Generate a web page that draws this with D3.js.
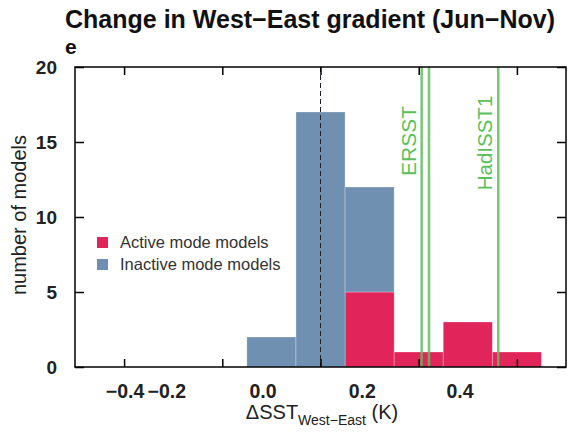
<!DOCTYPE html>
<html>
<meta charset="utf-8">
<title>Change in West-East gradient</title>
<script src="https://d3js.org/d3.v7.min.js"></script>
<style>
body { margin: 0; background: #fff; }
text { font-family: "Liberation Sans", Arial, sans-serif; }
.axis path { display: none; }
.axis line { stroke: #000; stroke-width: 1.5; }
</style>
<body>
<svg width="576" height="432"></svg>
<script>
// histogram bins (centre of each 0.1 K bin)
var binCentres = [-0.1, 0.0, 0.1, 0.2, 0.3, 0.4];
var activeCounts = [0, 0, 5, 1, 3, 1];
var inactiveCounts = [2, 17, 7, 0, 0, 0];
var binWidth = 0.1;

// observed values
var obsNames = ["ERSST", "ERSST", "HadISST1"];
var obsValues = [0.206, 0.221, 0.362];

var xTicks = [-0.4, -0.2, 0.0, 0.2, 0.4];
var xTickLabels = ["\u22120.4", "\u22120.2", "0.0", "0.2", "0.4"];
// where the labels sit in the original figure (shifted from the ticks)
var xLabelAt = [-0.398, -0.313, -0.117, 0.085, 0.284];
var yTicks = [0, 5, 10, 15, 20];

var svg = d3.select("svg");
var pL = 75, pR = 566, pT = 67, pB = 367;

var x = d3.scaleLinear().domain([-0.5, 0.5]).range([pL, pR]);
var y = d3.scaleLinear().domain([0, 20]).range([pB, pT]);

var red = "#e1255b", blue = "#7090b2", green = "#5cbf5c";

var bins = binCentres.map(function(c, i) {
  return {c: c, a: activeCounts[i], n: inactiveCounts[i]};
});

// active (bottom of stack)
svg.selectAll(".act").data(bins.filter(function(d){ return d.a > 0; }))
  .enter().append("rect")
  .attr("class", "act")
  .attr("x", function(d){ return x(d.c - binWidth/2); })
  .attr("width", function(d){ return x(d.c + binWidth/2) - x(d.c - binWidth/2); })
  .attr("y", function(d){ return y(d.a); })
  .attr("height", function(d){ return y(0) - y(d.a); })
  .attr("fill", red)
  .attr("stroke", "#fff").attr("stroke-opacity", 0.35).attr("stroke-width", 0.8);

// inactive on top
svg.selectAll(".inact").data(bins.filter(function(d){ return d.n > 0; }))
  .enter().append("rect")
  .attr("class", "inact")
  .attr("x", function(d){ return x(d.c - binWidth/2); })
  .attr("width", function(d){ return x(d.c + binWidth/2) - x(d.c - binWidth/2); })
  .attr("y", function(d){ return y(d.a + d.n); })
  .attr("height", function(d){ return y(d.a) - y(d.a + d.n); })
  .attr("fill", blue)
  .attr("stroke", "#fff").attr("stroke-opacity", 0.35).attr("stroke-width", 0.8);

// zero line
svg.append("line")
  .attr("x1", x(0)).attr("x2", x(0))
  .attr("y1", y(20)).attr("y2", y(0))
  .attr("stroke", "#1a2230").attr("stroke-width", 1)
  .attr("stroke-dasharray", "5,3");

// observation lines
svg.selectAll(".obs").data(obsValues)
  .enter().append("line")
  .attr("class", "obs")
  .attr("x1", function(d){ return x(d); }).attr("x2", function(d){ return x(d); })
  .attr("y1", y(20)).attr("y2", y(0))
  .attr("stroke", green).attr("stroke-width", 2.5).attr("stroke-opacity", 0.85);

var obsLabels = [{t: "ERSST", v: obsValues[0], yc: 141, fs: 21}, {t: "HadISST1", v: obsValues[2], yc: 143, fs: 20.5}];
svg.selectAll(".obslab").data(obsLabels)
  .enter().append("text")
  .attr("transform", function(d){ return "translate(" + (x(d.v) - 6) + "," + d.yc + ") rotate(-90)"; })
  .attr("text-anchor", "middle")
  .attr("font-size", function(d){ return d.fs; })
  .attr("fill", green)
  .text(function(d){ return d.t; });

// axes (ticks point inward)
svg.append("g").attr("class", "axis")
  .attr("transform", "translate(0," + pB + ")")
  .call(d3.axisBottom(x).tickValues(xTicks).tickSizeInner(-8).tickSizeOuter(0).tickFormat(""));
svg.append("g").attr("class", "axis")
  .attr("transform", "translate(0," + pT + ")")
  .call(d3.axisTop(x).tickValues(xTicks).tickSizeInner(-8).tickSizeOuter(0).tickFormat(""));
var yAxis = svg.append("g").attr("class", "axis")
  .attr("transform", "translate(" + pL + ",0)")
  .call(d3.axisLeft(y).tickValues(yTicks).tickSizeInner(-9).tickSizeOuter(0).tickPadding(18));
yAxis.selectAll("text")
  .attr("font-size", 19).attr("font-weight", "bold").attr("fill", "#222")
  .style("font-family", "Liberation Sans, Arial, sans-serif");
svg.append("g").attr("class", "axis")
  .attr("transform", "translate(" + pR + ",0)")
  .call(d3.axisRight(y).tickValues(yTicks).tickSizeInner(-9).tickSizeOuter(0).tickFormat(""));

// frame
svg.append("rect")
  .attr("x", pL).attr("y", pT)
  .attr("width", pR - pL).attr("height", pB - pT)
  .attr("fill", "none").attr("stroke", "#000").attr("stroke-width", 1.5);

// x tick labels
svg.selectAll(".xlab").data(xTickLabels)
  .enter().append("text")
  .attr("x", function(d, i){ return x(xLabelAt[i]); })
  .attr("y", 398)
  .attr("text-anchor", "middle")
  .attr("font-size", 19.5).attr("font-weight", "bold").attr("fill", "#222")
  .text(function(d){ return d; });

// x axis title
var xt = svg.append("text")
  .attr("x", 322).attr("y", 419)
  .attr("text-anchor", "middle")
  .attr("font-size", 20).attr("fill", "#222");
xt.append("tspan").text("\u0394SST");
xt.append("tspan").attr("font-size", 14).attr("dy", 6).text("West\u2212East");
xt.append("tspan").attr("dy", -6).text(" (K)");

// y axis title
svg.append("text")
  .attr("transform", "translate(26,215) rotate(-90)")
  .attr("text-anchor", "middle")
  .attr("font-size", 20).attr("fill", "#222")
  .text("number of models");

// title and panel letter
svg.append("text")
  .attr("x", 310).attr("y", 28)
  .attr("text-anchor", "middle")
  .attr("font-size", 25).attr("font-weight", "bold").attr("fill", "#111")
  .text("Change in West\u2212East gradient (Jun\u2212Nov)");
svg.append("text")
  .attr("x", 65).attr("y", 54)
  .attr("font-size", 21).attr("font-weight", "bold").attr("fill", "#111")
  .text("e");

// legend
var legendNames = ["Active mode models", "Inactive mode models"];
var legendColours = [red, blue];
var lg = svg.selectAll(".leg").data(legendNames).enter().append("g")
  .attr("transform", function(d, i){ return "translate(97," + (237 + i * 22) + ")"; });
lg.append("rect").attr("width", 11).attr("height", 11)
  .attr("fill", function(d, i){ return legendColours[i]; });
lg.append("text").attr("x", 23).attr("y", 11)
  .attr("font-size", 16.5).attr("fill", "#333")
  .text(function(d){ return d; });
</script>
</body>
</html>
